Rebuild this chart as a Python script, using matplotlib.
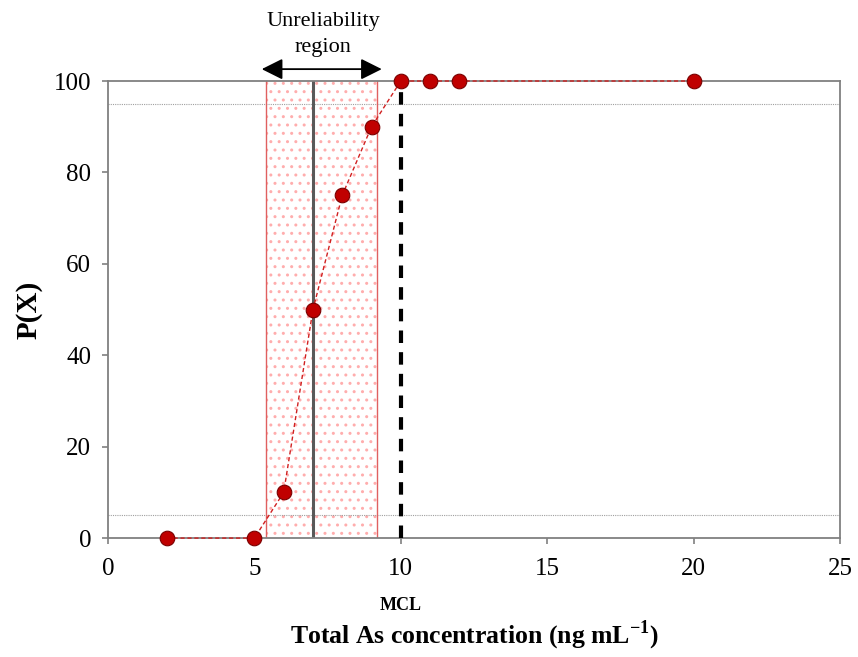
import matplotlib
matplotlib.use("Agg")
import matplotlib.pyplot as plt

conc = [2, 5, 6, 7, 8, 9, 10, 11, 12, 20]
px = [0, 0, 10, 50, 75, 90, 100, 100, 100, 100]
region = [5.4, 9.2]
center = 7.0
mcl = 10
limits_y = [5, 95]
xticks = [0, 5, 10, 15, 20, 25]
yticks = [0, 20, 40, 60, 80, 100]

plt.rcParams['font.family'] = ['Liberation Serif', 'DejaVu Serif']
plt.rcParams['mathtext.fontset'] = 'custom'
plt.rcParams['mathtext.rm'] = 'Liberation Serif'
plt.rcParams['mathtext.bf'] = 'Liberation Serif:bold'
plt.rcParams['hatch.linewidth'] = 1.0

fig = plt.figure(figsize=(8.58, 6.57), dpi=100)
ax = fig.add_axes([0.1259, 0.181, 0.9790 - 0.1259, 0.8767 - 0.181])

# shaded unreliability region
ax.axvspan(region[0], region[1], facecolor='none', edgecolor=(1.0, 0.68, 0.68),
           hatch='..', linewidth=0, zorder=1)
for xv in region:
    ax.axvline(xv, color='#e06060', lw=1.0, zorder=2)
ax.axvline(center, color='#595959', lw=2.2, zorder=2)

for yv in limits_y:
    ax.axhline(yv, color='#a0a0a0', lw=0.8, ls=(0, (1, 1)), zorder=1)

ax.plot([mcl, mcl], [0, 100], color='black', lw=3, ls=(0, (3, 2.2)), zorder=3)

ax.plot(conc, px, color='#d02020', lw=1.0, ls=(0, (3, 2)), marker='o',
        markersize=10.5, markerfacecolor='#c00000', markeredgecolor='#7a0000',
        markeredgewidth=0.8, zorder=4, clip_on=False)

ax.set_xlim(0, 25)
ax.set_ylim(0, 100)
ax.set_xticks(xticks)
ax.set_yticks(yticks)
ax.tick_params(labelsize=18, length=4, color='#808080', width=1.2)
ax.tick_params(axis='x', pad=10)
ax.tick_params(axis='y', pad=8)
for s in ax.spines.values():
    s.set_color('#808080')
    s.set_linewidth(1.3)

ax.set_ylabel('P(X)', fontsize=21, fontweight='bold', labelpad=8)
ax.set_xlabel('Total As concentration (ng mL$^{\\mathbf{-1}}$)', fontsize=18.5,
              fontweight='bold', labelpad=28)
ax.text(mcl, -14.8, 'MCL', fontsize=13, fontweight='bold', ha='center', va='center')

ax.annotate('', xy=(region[0] - 0.15, 102.6), xytext=(region[1] + 0.15, 102.6),
            arrowprops=dict(arrowstyle='<|-|>', color='black', lw=1.3,
                            mutation_scale=32, shrinkA=0, shrinkB=0),
            annotation_clip=False)
ax.text(7.35, 110.2, 'Unreliability\nregion', fontsize=16,
        ha='center', va='center', linespacing=1.5)

fig.savefig('out.png', dpi=100)
